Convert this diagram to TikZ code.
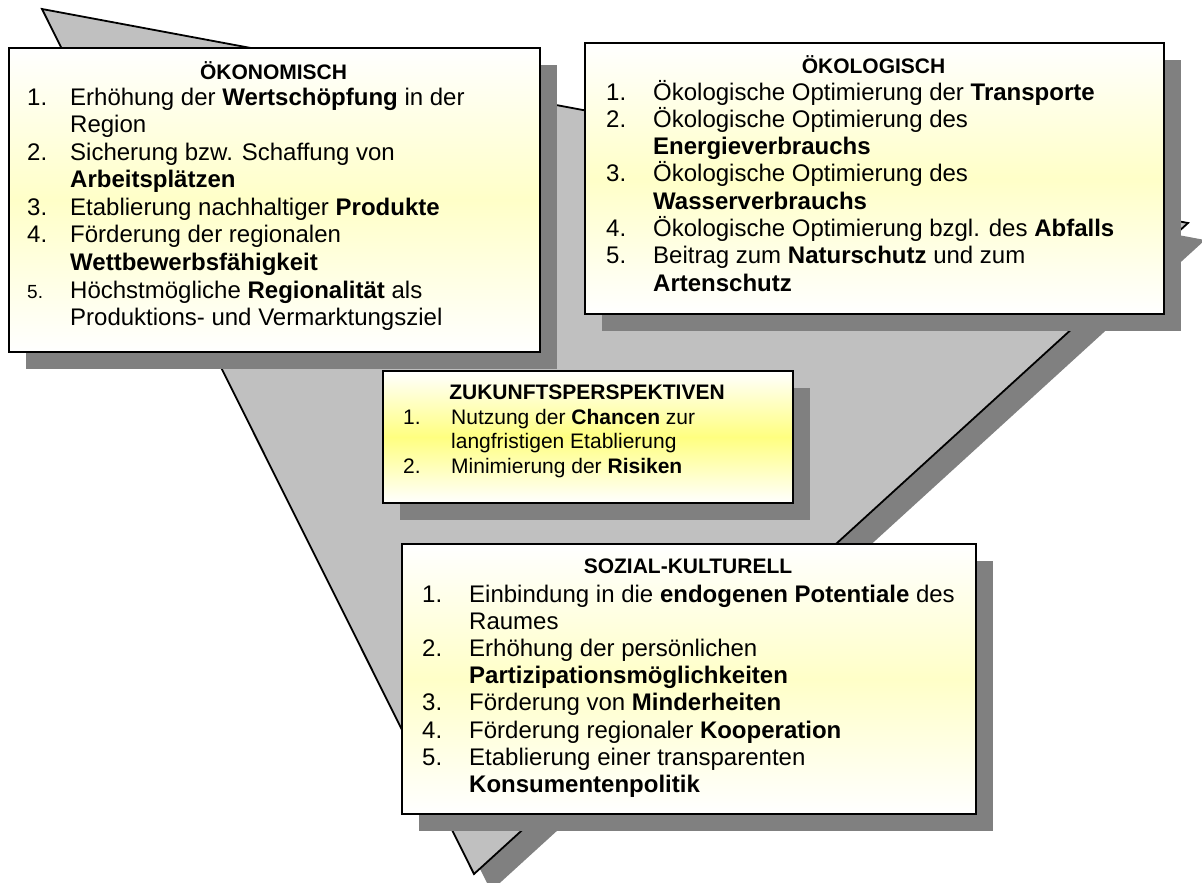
\documentclass[tikz,border=0pt]{standalone}
\usepackage{fontspec}
\setmainfont{Liberation Sans}
\usetikzlibrary{shadows}

\definecolor{trianglegray}{HTML}{C0C0C0}
\definecolor{shadowgray}{HTML}{808080}
\definecolor{softyellow}{HTML}{FFFFC8}
\definecolor{brightyellow}{HTML}{FFFF80}

% text block of a panel: the first baseline is the box baseline
\newcommand{\panelbody}[2]{%
  \vtop{\hsize=#1\parindent=0pt\parskip=0pt\lineskiplimit=-100pt
    \raggedright #2\par}}
\newlength{\numgap}
\setlength{\numgap}{43pt}
% numbered entry with hanging indent
\newcommand{\itm}[2]{\par\hangindent=\numgap\hangafter=1\noindent
  \makebox[\numgap][l]{#1}#2}

\tikzset{
  panel/.style={draw=black, line width=2pt, anchor=north west, inner sep=0pt,
    top color=white, bottom color=white, middle color=#1,
    drop shadow={shadow xshift=17pt, shadow yshift=-17pt,
      fill=shadowgray, opacity=1}},
  panel/.default=softyellow,
  heading/.style={anchor=base, inner sep=0pt,
    font=\fontsize{21}{25}\selectfont\bfseries},
  listing/.style={anchor=base west, inner sep=0pt},
}

\begin{document}
\begin{tikzpicture}[x=1pt,y=-1pt]
\useasboundingbox (0,0) rectangle (1202,883);

% backdrop triangle and its shadow
\coordinate (tl) at (42,9);
\coordinate (tr) at (1188,223);
\coordinate (bt) at (474,874);
\fill[shadowgray] ([shift={(17,17)}]tl) -- ([shift={(17,17)}]tr)
  -- ([shift={(17,17)}]bt) -- cycle;
\filldraw[fill=trianglegray, draw=black, line width=1.8pt, line join=miter]
  (tl) -- (tr) -- (bt) -- cycle;

% panels
\node[panel, minimum width=531pt, minimum height=304pt] (econ) at (8,47) {};
\node[panel, minimum width=579pt, minimum height=271pt] (ecol) at (584,42) {};
\node[panel=brightyellow, minimum width=410pt, minimum height=132pt] (zuk) at (382,370) {};
\node[panel, minimum width=574pt, minimum height=270pt] (soz) at (401,543) {};

% economic
\node[heading] (econT) at (273.5,79) {ÖKONOMISCH};
\node[listing] (econL) at (27,105) {\panelbody{505pt}{\fontsize{24}{27.6}\selectfont
  \itm{1.}{Erhöhung der \textbf{Wertschöpfung} in der\newline Region}
  \itm{2.}{Sicherung bzw. Schaffung von\newline \textbf{Arbeitsplätzen}}
  \itm{3.}{Etablierung nachhaltiger \textbf{Produkte}}
  \itm{4.}{Förderung der regionalen\newline \textbf{Wettbewerbsfähigkeit}}
  \itm{{\fontsize{19}{27.6}\selectfont 5.}}{Höchstmögliche \textbf{Regionalität} als\newline Produktions- und Vermarktungsziel}}};

% ecological
\node[heading] (ecolT) at (873.5,74) {ÖKOLOGISCH};
\node[listing] (ecolL) at (606,100) {\panelbody{550pt}{\setlength{\numgap}{47pt}\fontsize{24}{27.3}\selectfont
  \itm{1.}{Ökologische Optimierung der \textbf{Transporte}}
  \itm{2.}{Ökologische Optimierung des\newline \textbf{Energieverbrauchs}}
  \itm{3.}{Ökologische Optimierung des\newline \textbf{Wasserverbrauchs}}
  \itm{4.}{Ökologische Optimierung bzgl. des \textbf{Abfalls}}
  \itm{5.}{Beitrag zum \textbf{Naturschutz} und zum\newline \textbf{Artenschutz}}}};

% future perspectives
\node[heading] (zukT) at (587,399) {ZUKUNFTSPERSPEKTIVEN};
\node[listing] (zukL) at (403,424) {\panelbody{385pt}{\setlength{\numgap}{48pt}\fontsize{21}{24.5}\selectfont
  \itm{1.}{Nutzung der \textbf{Chancen} zur\newline langfristigen Etablierung}
  \itm{2.}{Minimierung der \textbf{Risiken}}}};

% social and cultural
\node[heading] (sozT) at (688,573) {SOZIAL-KULTURELL};
\node[listing] (sozL) at (422,602) {\panelbody{545pt}{\setlength{\numgap}{47pt}\fontsize{24}{27.2}\selectfont
  \itm{1.}{Einbindung in die \textbf{endogenen Potentiale} des\newline Raumes}
  \itm{2.}{Erhöhung der persönlichen\newline \textbf{Partizipationsmöglichkeiten}}
  \itm{3.}{Förderung von \textbf{Minderheiten}}
  \itm{4.}{Förderung regionaler \textbf{Kooperation}}
  \itm{5.}{Etablierung einer transparenten\newline \textbf{Konsumentenpolitik}}}};
\end{tikzpicture}
\end{document}
